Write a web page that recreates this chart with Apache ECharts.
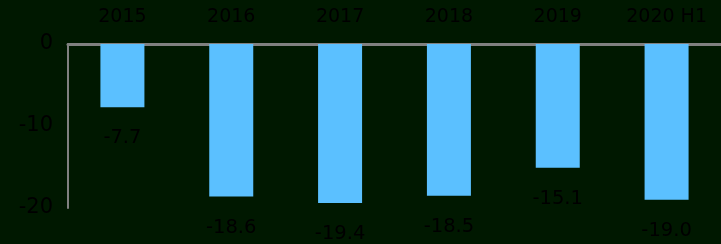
<!DOCTYPE html>
<html style="height: 100%">
<head>
    <meta charset="utf-8">
</head>
<body style="height: 100%; margin: 0; background: #001800">
<div id="container" style="width: 721px; height: 244px"></div>
<script type="text/javascript" src="https://cdn.jsdelivr.net/npm/echarts@6.0.0/dist/echarts.min.js"></script>
<script type="text/javascript">
  const categories = ['2015', '2016', '2017', '2018', '2019', '2020 H1'];
  const values = [-7.7, -18.6, -19.4, -18.5, -15.1, -19.0];
  const yTicks = [-20, -10, 0];

  var dom = document.getElementById("container");
  var myChart = echarts.init(dom);
  var font = 'DejaVu Sans';
  var option = {
    backgroundColor: '#001800',
    animation: false,
    grid: { left: 68, right: 0, top: 44, bottom: 36 },
    xAxis: {
      type: 'category',
      position: 'top',
      data: categories,
      axisLine: { lineStyle: { color: '#808080', width: 3 } },
      axisTick: { show: false },
      axisLabel: { color: '#000', fontFamily: font, fontSize: 19, margin: 17 }
    },
    yAxis: {
      type: 'value',
      min: yTicks[0],
      max: yTicks[yTicks.length - 1],
      interval: 10,
      axisLine: { show: true, lineStyle: { color: '#808080', width: 2 } },
      axisTick: { show: false },
      splitLine: { show: false },
      axisLabel: {
        color: '#000', fontFamily: font, fontSize: 21, margin: 15,
        padding: [7, 0, 0, 0]
      }
    },
    series: [
      {
        type: 'bar',
        data: values,
        barWidth: 44,
        itemStyle: { color: '#5bc0ff' },
        label: {
          show: true,
          position: 'bottom',
          distance: 21,
          color: '#000',
          fontFamily: font,
          fontSize: 19.5,
          formatter: p => p.value.toFixed(1)
        }
      }
    ]
  };
  myChart.setOption(option);
</script>
</body>
</html>
